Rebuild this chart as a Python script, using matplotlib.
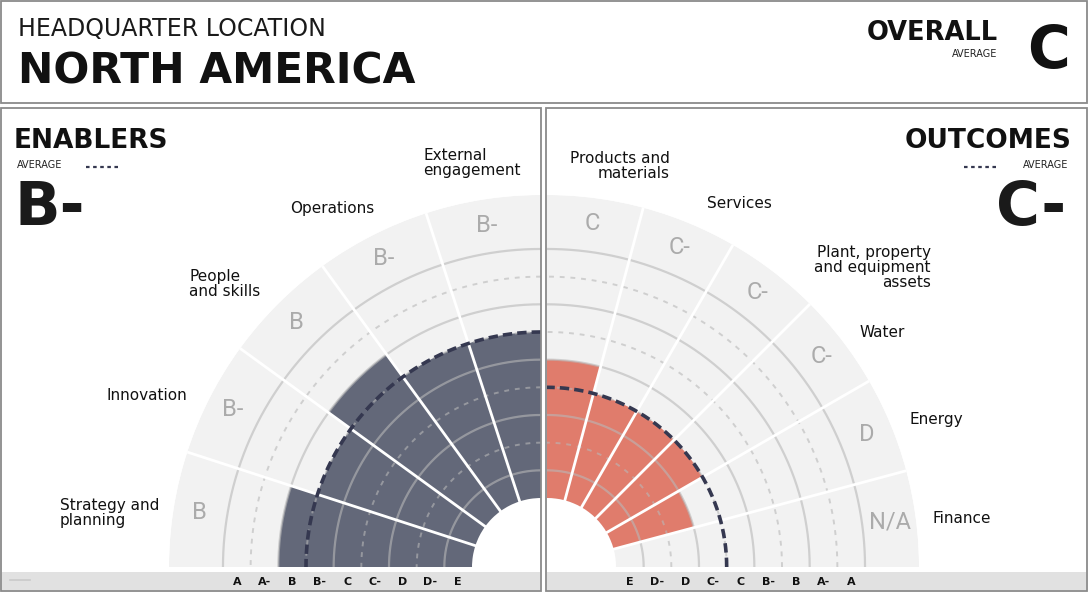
import numpy as np
import matplotlib.pyplot as plt
from matplotlib.patches import Rectangle

# grade scale, worst to best
grades = ['E', 'D-', 'D', 'C-', 'C', 'B-', 'B', 'A-', 'A']

region = 'NORTH AMERICA'
overall = 'C'

enabler_names = ['Strategy and\nplanning', 'Innovation', 'People\nand skills',
                 'Operations', 'External\nengagement']
enabler_grades = ['B', 'B-', 'B', 'B-', 'B-']
enabler_avg = 'B-'

outcome_names = ['Products and\nmaterials', 'Services',
                 'Plant, property\nand equipment\nassets', 'Water', 'Energy', 'Finance']
outcome_grades = ['C', 'C-', 'C-', 'C-', 'D', 'N/A']
outcome_avg = 'C-'

# layout (pixels)
W, H = 1088, 592
CY = 567
CXL, CXR = 541, 547
R_IN, STEP, R_OUT, R_TXT = 69, 27.67, 372, 346

# where the category names sit (angle deg, radius px, alignment)
enabler_lab = [(172.9, 435, 'left'), (156.5, 430, 'left'), (138.2, 424, 'left'),
               (120.2, 415, 'left'), (99.7, 410, 'left')]
outcome_lab = [(79.7, 408, 'right'), (62.1, 411, 'left'), (42.6, 442, 'right'),
               (35.0, 409, 'left'), (20.7, 416, 'left'), (6.7, 418, 'left')]

DARK = '#636879'
SALMON = '#e07c6c'
BG = '#f2f2f2'
AVG_COL = '#353850'
SANS = 'DejaVu Sans'


def gval(g):
    return grades.index(g) + 1 if g in grades else 0


def rad(v):
    return R_IN + v * STEP


fig = plt.figure(figsize=(W / 100, H / 100), dpi=100)


def txt(x, y, s, **kw):
    kw.setdefault('family', SANS)
    fig.text(x / W, 1 - y / H, s, **kw)


def box(x0, y0, x1, y1, **kw):
    fig.patches.append(Rectangle((x0 / W, 1 - y1 / H), (x1 - x0) / W, (y1 - y0) / H,
                                 transform=fig.transFigure, **kw))


def quarter(cx, t_start, t_end, names, glist, avg, colour, labs):
    left = cx - R_OUT if t_start > 90 else cx
    ax = fig.add_axes([left / W, (H - CY) / H, R_OUT / W, R_OUT / H], projection='polar')
    ax.set_thetamin(min(t_start, t_end))
    ax.set_thetamax(max(t_start, t_end))
    ax.set_ylim(0, R_OUT)
    ax.set_axis_off()

    n = len(names)
    step = (t_end - t_start) / n
    centres = np.deg2rad([t_start + (i + 0.5) * step for i in range(n)])
    width = np.deg2rad(abs(step))
    vals = np.array([gval(g) for g in glist])

    ax.bar(centres, R_OUT - R_IN, width=width, bottom=R_IN, color=BG, lw=0, zorder=1)
    ax.bar(centres, rad(vals) - R_IN, width=width, bottom=R_IN, color=colour, lw=0, zorder=2)

    th = np.linspace(np.deg2rad(min(t_start, t_end)), np.deg2rad(max(t_start, t_end)), 300)
    for k in range(1, len(grades) + 1):
        if k % 2:
            ax.plot(th, np.full_like(th, rad(k)), color='#b8b8b8', lw=1.6, alpha=0.6, zorder=3)
        else:
            ax.plot(th, np.full_like(th, rad(k)), color='#b8b8b8', lw=1.4, alpha=0.6,
                    ls=(0, (2.5, 3)), zorder=3)

    for i in range(1, n):
        a = np.deg2rad(t_start + i * step)
        ax.plot([a, a], [R_IN, R_OUT], color='white', lw=2, zorder=4)

    ax.plot(th, np.full_like(th, rad(gval(avg))), color=AVG_COL, lw=2.6,
            ls=(0, (2.6, 1.4)), zorder=5)

    for c, g in zip(centres, glist):
        ax.text(c, R_TXT, g, ha='center', va='center', color='#ababab',
                family='Roboto', fontsize=17, zorder=6)

    for name, (a, r, al) in zip(names, labs):
        ax.text(np.deg2rad(a), r, name, ha='center', va='center', multialignment=al,
                family=SANS, fontsize=11, color='#111111', linespacing=1.0,
                clip_on=False, zorder=6)
    return ax


# panel frames and bottom scale strips
box(1, 1, 1087, 103, fill=False, ec='#8a8a8a', lw=1.3)
box(1, 108, 541, 591, fill=False, ec='#8a8a8a', lw=1.3)
box(546, 108, 1087, 591, fill=False, ec='#8a8a8a', lw=1.3)
box(2, 572, 540, 590, fc='#e1e1e1', ec='none')
box(547, 572, 1086, 590, fc='#e1e1e1', ec='none')
fig.lines.append(plt.Line2D([10 / W, 30 / W], [1 - 580 / H] * 2, color='#c9c9c9', lw=1.2,
                            transform=fig.transFigure))

quarter(CXL, 180, 90, enabler_names, enabler_grades, enabler_avg, DARK, enabler_lab)
quarter(CXR, 90, 0, outcome_names, outcome_grades, outcome_avg, SALMON, outcome_lab)

for k, g in enumerate(grades):
    r = rad(k + 0.5)
    txt(CXL - r, 585, g, ha='center', va='baseline', fontsize=8, weight='bold', color='#111111')
    txt(CXR + r, 585, g, ha='center', va='baseline', fontsize=8, weight='bold', color='#111111')

# header
txt(18, 36, 'HEADQUARTER LOCATION', fontsize=17, weight='normal', color='#1a1a1a')
txt(18, 84, region, fontsize=30.5, weight='bold', color='#111111')
txt(998, 40, 'OVERALL', fontsize=18.5, weight='bold', color='#111111', ha='right')
txt(997, 57, 'AVERAGE', fontsize=7, color='#222222', ha='right')
txt(1070, 68, overall, fontsize=42, weight='bold', color='#111111', ha='right')

# enablers header
txt(14, 148, 'ENABLERS', fontsize=19, weight='bold', color='#111111')
txt(17, 168, 'AVERAGE', fontsize=7, color='#222222')
fig.lines.append(plt.Line2D([86 / W, 121 / W], [1 - 167 / H] * 2, color=AVG_COL, lw=1.6,
                            ls=(0, (1.6, 1.6)), transform=fig.transFigure))
txt(14, 225, enabler_avg, fontsize=43, weight='bold', color='#1a1a1a')

# outcomes header
txt(1071, 148, 'OUTCOMES', fontsize=19, weight='bold', color='#111111', ha='right')
txt(1068, 168, 'AVERAGE', fontsize=7, color='#222222', ha='right')
fig.lines.append(plt.Line2D([964 / W, 999 / W], [1 - 167 / H] * 2, color=AVG_COL, lw=1.6,
                            ls=(0, (1.6, 1.6)), transform=fig.transFigure))
txt(1066, 225, outcome_avg, fontsize=43, weight='bold', color='#1a1a1a', ha='right')

fig.savefig('out.png', dpi=100, facecolor='white')
